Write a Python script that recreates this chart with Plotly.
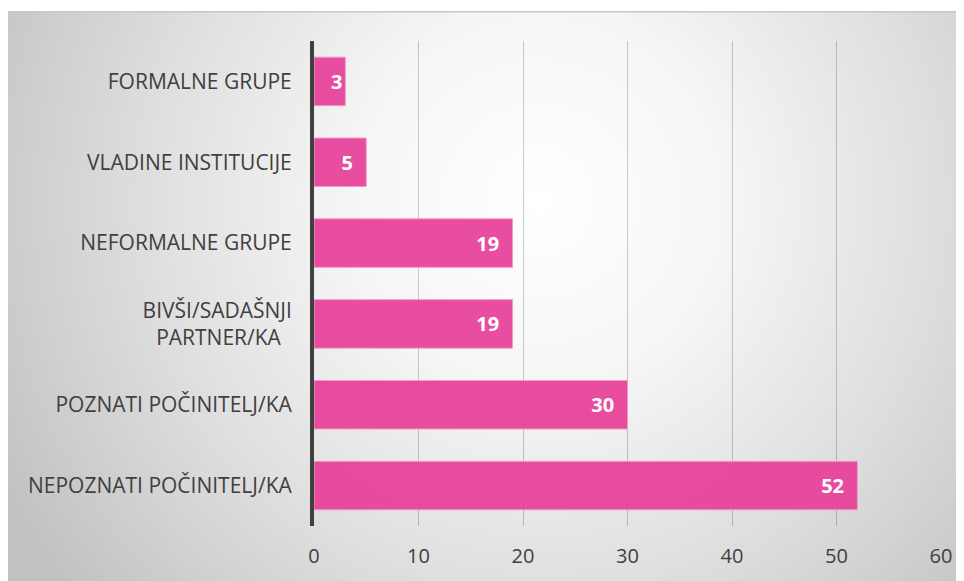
import plotly.graph_objects as go
import base64

categories = ["NEPOZNATI POČINITELJ/KA", "POZNATI POČINITELJ/KA",
              "BIVŠI/SADAŠNJI<br>PARTNER/KA&nbsp;&nbsp;", "NEFORMALNE GRUPE",
              "VLADINE INSTITUCIJE", "FORMALNE GRUPE"]
values = [52, 30, 19, 19, 5, 3]
x_ticks = [0, 10, 20, 30, 40, 50, 60]

OFF = 8  # page body margin
W, H = 964 - OFF, 581 - OFF
L, R, T, B = 314 - OFF, 23, 41 - OFF, 55
pw, ph = W - L - R, H - T - B

svg = '''<svg xmlns="http://www.w3.org/2000/svg" width="958" height="570" viewBox="0 0 958 570">
<defs><radialGradient id="g" cx="534" cy="190" r="610" gradientUnits="userSpaceOnUse">
<stop offset="0" stop-color="#ffffff"/><stop offset="0.3" stop-color="#f6f6f6"/>
<stop offset="0.65" stop-color="#dedede"/><stop offset="1" stop-color="#c2c2c2"/></radialGradient></defs>
<rect width="958" height="570" fill="url(#g)"/>
<rect width="958" height="1.5" fill="#c8c8c8"/></svg>'''
src = "data:image/svg+xml;base64," + base64.b64encode(svg.encode()).decode()

gx0, gy0 = 6 - OFF, 11 - OFF  # gray box top-left in figure px

texts = [f"{v}&nbsp;&nbsp;" if v >= 5 else f"{v}" for v in values]

fig = go.Figure(go.Bar(
    x=values, y=categories, orientation="h",
    marker=dict(color="rgba(230,64,152,0.93)", line=dict(color="#f39ac9", width=1)),
    text=texts, textposition="inside", insidetextanchor="end",
    constraintext="none",
    textfont=dict(family="Open Sans", size=20, color="white", weight="bold"),
))

fig.update_layout(
    width=W, height=H,
    margin=dict(l=L, r=R, t=T, b=B),
    paper_bgcolor="white", plot_bgcolor="rgba(0,0,0,0)",
    showlegend=False,
    images=[dict(source=src, xref="paper", yref="paper",
                 x=(gx0 - L) / pw, y=(H - B - gy0) / ph,
                 sizex=(W - gx0) / pw, sizey=(H - gy0) / ph,
                 sizing="stretch", xanchor="left", yanchor="top", layer="below")],
    xaxis=dict(range=[0, 60], tickvals=x_ticks, showgrid=True,
               gridcolor="rgba(0,0,0,0.2)", gridwidth=1, zeroline=False,
               showline=False, ticks="",
               tickfont=dict(family="Open Sans", size=20, color="#404040"),
               ticklabelstandoff=16),
    yaxis=dict(showline=True, linecolor="#404040", linewidth=4, ticks="",
               showgrid=False,
               tickfont=dict(family="Open Sans", size=21, color="#404040"),
               ticklabelstandoff=14),
    bargap=0.4,
)

fig.write_html("out.html")
